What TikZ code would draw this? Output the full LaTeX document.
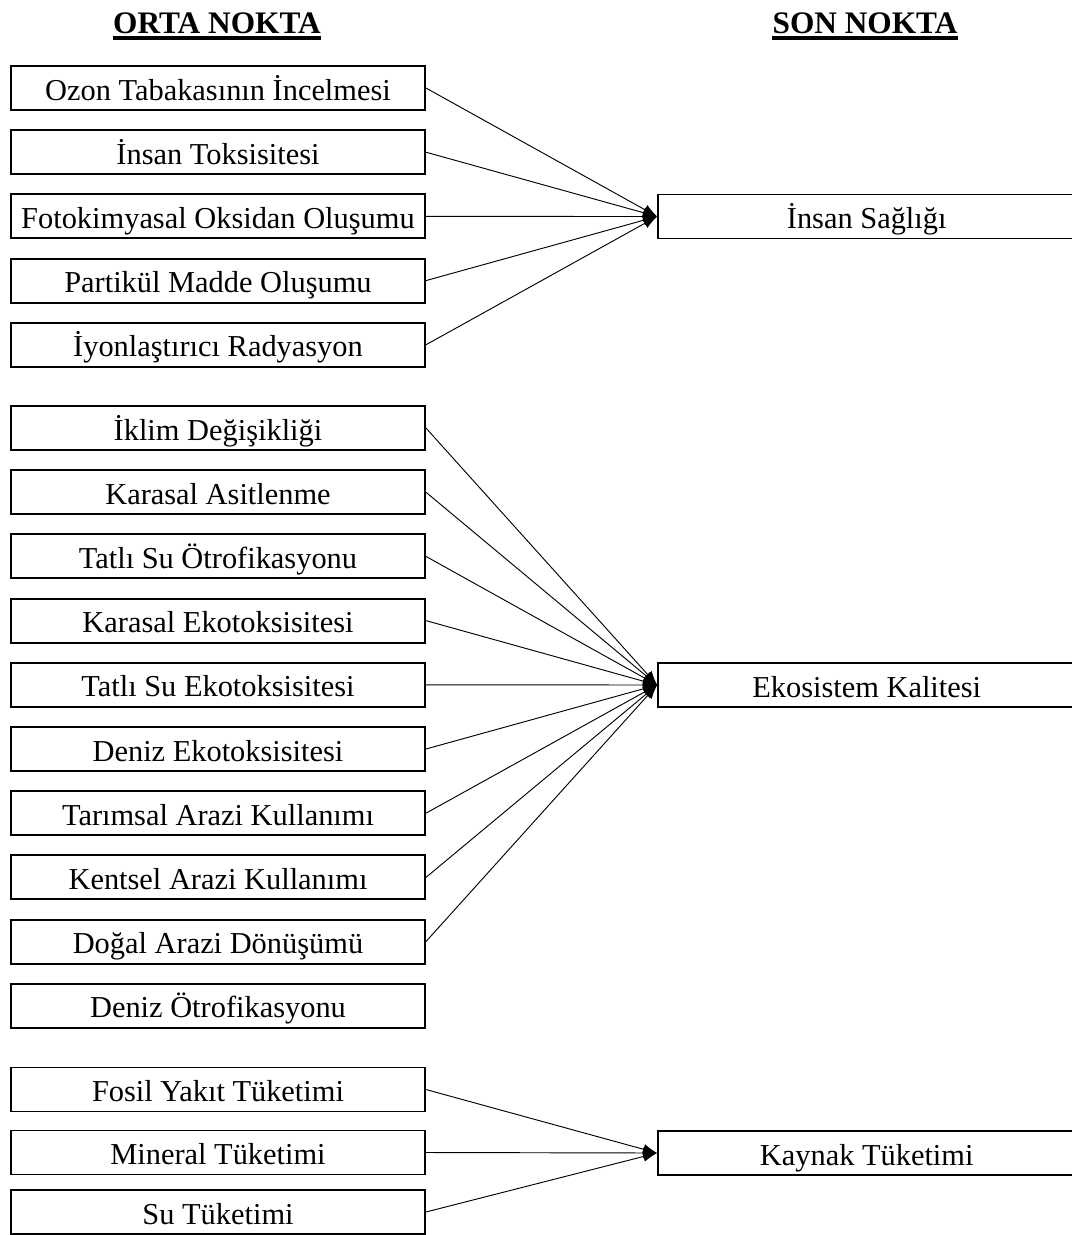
\documentclass[tikz,border=0pt]{standalone}
\usepackage{fontspec}
\setmainfont{Liberation Serif}
\usetikzlibrary{arrows.meta}

\begin{document}
\begin{tikzpicture}[x=0.75pt,y=-0.75pt,
  box/.style={draw, line width=1.4pt, minimum width=310.5pt, minimum height=33pt,
    inner sep=0pt, text height=18pt, text depth=0pt,
    font=\fontsize{22.8}{27}\selectfont},
  endbox/.style={box, minimum width=313pt},
  heading/.style={inner sep=0pt, anchor=base, font=\fontsize{23.5}{28}\selectfont\bfseries},
  conn/.style={line width=0.7pt, -{Latex[length=10.5pt,width=8pt]}},
  rule/.style={line width=2.6pt}]
\useasboundingbox (0,0) rectangle (1071,1235);

% column headings
\node[heading] (hmid) at (217,33) {ORTA NOKTA};
\node[heading] (hend) at (865,33) {SON NOKTA};
\draw[rule] ([yshift=-3.8pt]hmid.base west) -- ([yshift=-3.8pt]hmid.base east);
\draw[rule] ([yshift=-3.8pt]hend.base west) -- ([yshift=-3.8pt]hend.base east);

% midpoint categories
\node[box] (ozon) at (218,88)    {Ozon Tabakasının İncelmesi};
\node[box] (itox) at (218,152.2) {İnsan Toksisitesi};
\node[box] (foto) at (218,216.4) {Fotokimyasal Oksidan Oluşumu};
\node[box] (part) at (218,280.6) {Partikül Madde Oluşumu};
\node[box] (iyon) at (218,344.8) {İyonlaştırıcı Radyasyon};

\node[box] (ikli) at (218,428)   {İklim Değişikliği};
\node[box] (kasi) at (218,492.2) {Karasal Asitlenme};
\node[box] (totr) at (218,556.4) {Tatlı Su Ötrofikasyonu};
\node[box] (keko) at (218,620.6) {Karasal Ekotoksisitesi};
\node[box] (teko) at (218,684.8) {Tatlı Su Ekotoksisitesi};
\node[box] (deko) at (218,749)   {Deniz Ekotoksisitesi};
\node[box] (tari) at (218,813.2) {Tarımsal Arazi Kullanımı};
\node[box] (kent) at (218,877.4) {Kentsel Arazi Kullanımı};
\node[box] (doga) at (218,941.6) {Doğal Arazi Dönüşümü};
\node[box] (dotr) at (218,1005.8){Deniz Ötrofikasyonu};

\node[box] (fosi) at (218,1089.5){Fosil Yakıt Tüketimi};
\node[box] (mine) at (218,1152.5){Mineral Tüketimi};
\node[box] (sutu) at (218,1212)  {Su Tüketimi};

% endpoint categories (their right edge runs off the page)
\node[endbox] (sagl) at (866.7,216.5) {İnsan Sağlığı};
\node[endbox] (ekos) at (866.7,685)   {Ekosistem Kalitesi};
\node[endbox] (kayn) at (866.7,1153)  {Kaynak Tüketimi};

% connectors
\foreach \m in {ozon,itox,foto,part,iyon}
  \draw[conn] (\m.east) -- (sagl.west);
\foreach \m in {ikli,kasi,totr,keko,teko,deko,tari,kent,doga}
  \draw[conn] (\m.east) -- (ekos.west);
\foreach \m in {fosi,mine,sutu}
  \draw[conn] (\m.east) -- (kayn.west);
\end{tikzpicture}
\end{document}
